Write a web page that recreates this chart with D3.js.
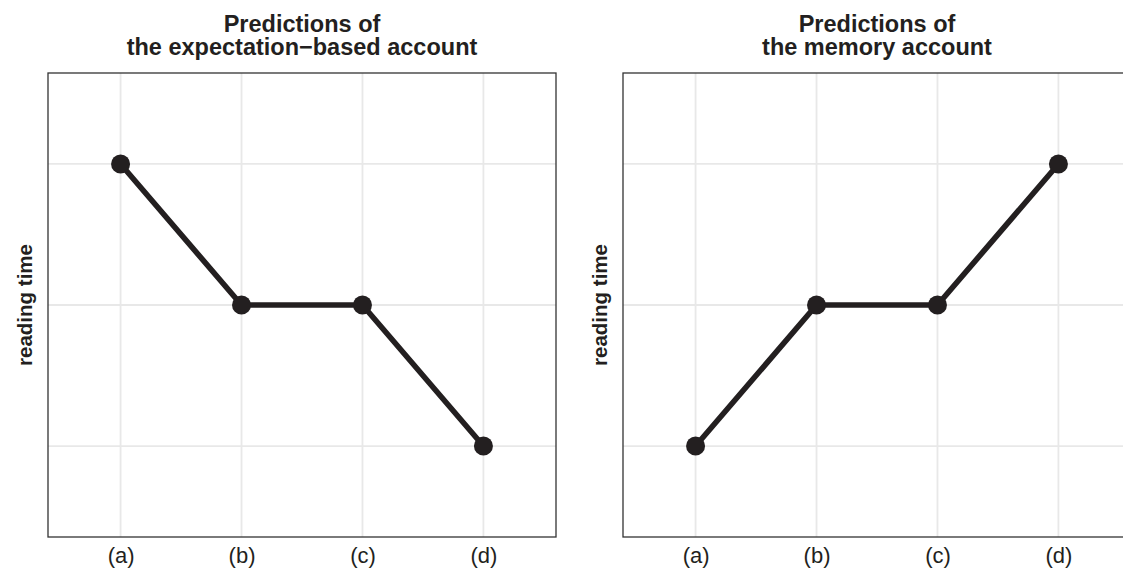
<!DOCTYPE html>
<html>
<head>
<meta charset="utf-8">
<script src="https://cdn.jsdelivr.net/npm/d3@7"></script>
<style>
body{margin:0;background:#fff;}
svg{display:block;}
</style>
</head>
<body>
<svg id="chart" width="1123" height="568"></svg>
<script>
var categories=["(a)","(b)","(c)","(d)"];
var expectationValues=[3,2,2,1];
var memoryValues=[1,2,2,3];
var yTicks=[1,2,3];
var yLimits=[0.355,3.645];
var titles=[
    ["Predictions of","the expectation\u2212based account"],
    ["Predictions of","the memory account"]
];
var yLabel="reading time";

var svg=d3.select("#chart");
var panelW=508, panelTop=73, panelBottom=537;
var panelLefts=[48,623];
var font="'Liberation Sans', Arial, sans-serif";
var ink="#231f20";

function drawPanel(idx,values){
    var left=panelLefts[idx];
    var g=svg.append("g").attr("transform","translate("+left+",0)");

    var x=d3.scalePoint().domain(categories).range([0,panelW]).padding(0.6);
    var y=d3.scaleLinear().domain(yLimits).range([panelBottom,panelTop]);

    // grid
    g.selectAll("line.gy")
        .data(yTicks)
        .enter()
        .append("line")
        .attr("class","gy")
        .attr("x1",0).attr("x2",panelW)
        .attr("y1",function(d){ return y(d) })
        .attr("y2",function(d){ return y(d) })
        .style("stroke","#e8e8e8")
        .style("stroke-width",1.8);
    g.selectAll("line.gx")
        .data(categories)
        .enter()
        .append("line")
        .attr("class","gx")
        .attr("x1",function(d){ return x(d) })
        .attr("x2",function(d){ return x(d) })
        .attr("y1",panelTop).attr("y2",panelBottom)
        .style("stroke","#e8e8e8")
        .style("stroke-width",1.8);

    // x axis labels
    var xAxis=d3.axisBottom(x).tickSize(0).tickPadding(10);
    var ax=g.append("g")
        .attr("transform","translate(0,"+panelBottom+")")
        .call(xAxis);
    ax.select(".domain").remove();
    ax.selectAll("text")
        .style("font-family",font)
        .style("font-size","22px")
        .style("fill",ink);

    // line and points
    var pts=values.map(function(v,i){ return {c:categories[i],v:v} });
    var line=d3.line()
        .x(function(d){ return x(d.c) })
        .y(function(d){ return y(d.v) });
    g.append("path")
        .datum(pts)
        .attr("d",line)
        .style("fill","none")
        .style("stroke",ink)
        .style("stroke-width",5.6);
    g.selectAll("circle")
        .data(pts)
        .enter()
        .append("circle")
        .attr("cx",function(d){ return x(d.c) })
        .attr("cy",function(d){ return y(d.v) })
        .attr("r",9.5)
        .style("fill",ink);

    // border
    g.append("rect")
        .attr("x",0).attr("y",panelTop)
        .attr("width",panelW).attr("height",panelBottom-panelTop)
        .style("fill","none")
        .style("stroke","#333333")
        .style("stroke-width",1.3);

    // title
    g.selectAll("text.title")
        .data(titles[idx])
        .enter()
        .append("text")
        .attr("class","title")
        .attr("x",panelW/2)
        .attr("y",function(d,i){ return 32+i*23 })
        .attr("text-anchor","middle")
        .style("font-family",font)
        .style("font-size","23.5px")
        .style("font-weight","bold")
        .style("fill",ink)
        .text(function(d){ return d });

    // y label
    g.append("text")
        .attr("transform","translate(-16,"+((panelTop+panelBottom)/2)+") rotate(-90)")
        .attr("text-anchor","middle")
        .style("font-family",font)
        .style("font-size","20.5px")
        .style("font-weight","bold")
        .style("fill",ink)
        .text(yLabel);
}

drawPanel(0,expectationValues);
drawPanel(1,memoryValues);
</script>
</body>
</html>
